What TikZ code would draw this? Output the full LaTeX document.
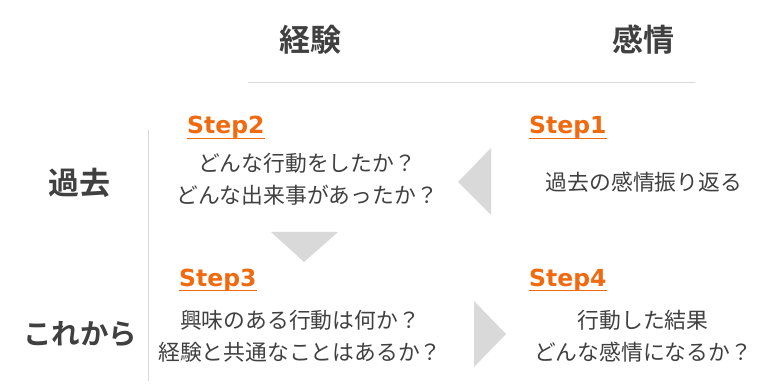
\documentclass[tikz,border=0pt]{standalone}
\usepackage{fontspec}
\newfontfamily\jp{Noto Sans CJK JP}
\newfontfamily\jpb{Noto Sans CJK JP Bold}
\newfontfamily\steps{DejaVu Sans}
\definecolor{txt}{HTML}{404040}
\definecolor{org}{HTML}{F06A10}
\definecolor{tri}{HTML}{D9D9D9}
\definecolor{rule}{HTML}{D9D9D9}
\begin{document}
\begin{tikzpicture}[x=1pt,y=-1pt,
  head/.style={font=\jpb\fontsize{31}{36}\selectfont, text=txt, inner sep=0pt},
  body/.style={font=\jp\fontsize{21.8}{31.5}\selectfont, text=txt, align=center, inner sep=0pt},
  steplabel/.style={font=\steps\bfseries\fontsize{23.5}{26}\selectfont, text=org, inner sep=0pt, anchor=base west},
  uline/.style={draw=org, line width=1.3pt},
  arrowtri/.style={fill=tri, draw=none}]
\useasboundingbox (0,0) rectangle (770,387);
% headers
\node[head] (hexp) at (310,40) {経験};
\node[head] (hemo) at (643,40) {感情};
\node[head] (hpast) at (79,183) {過去};
\node[head, font=\jpb\fontsize{28.5}{34}\selectfont] (hfut) at (80,334) {これから};
% rules
\coordinate (hl1) at (248,82); \coordinate (hl2) at (695,82);
\draw[rule, line width=0.8pt] (hl1) -- (hl2);
\coordinate (vl1) at (148,130); \coordinate (vl2) at (148,381);
\draw[rule, line width=0.8pt] (vl1) -- (vl2);
% step labels
\node[steplabel] (s2) at (187,134) {Step2};
\node[steplabel] (s1) at (529,134) {Step1};
\node[steplabel] (s3) at (179,286) {Step3};
\node[steplabel] (s4) at (529,286) {Step4};
\foreach \s in {s1,s2,s3,s4}{\draw[uline] ([yshift=-4.5pt]\s.base west) -- ([yshift=-4.5pt]\s.base east);}
% body texts
\node[body] (t2) at (307,179) {どんな行動をしたか？\\どんな出来事があったか？};
\node[body] (t1) at (644,182) {過去の感情振り返る};
\node[body] (t3) at (300,336) {興味のある行動は何か？\\経験と共通なことはあるか？};
\node[body] (t4) at (643,336) {行動した結果\\どんな感情になるか？};
% triangles
\coordinate (a1) at (491,148); \coordinate (a2) at (491,215); \coordinate (a3) at (458,182);
\fill[arrowtri] (a1) -- (a2) -- (a3) -- cycle;
\coordinate (b1) at (271,232); \coordinate (b2) at (338,232); \coordinate (b3) at (304,262);
\fill[arrowtri] (b1) -- (b2) -- (b3) -- cycle;
\coordinate (c1) at (474,301); \coordinate (c2) at (474,367); \coordinate (c3) at (506,334);
\fill[arrowtri] (c1) -- (c2) -- (c3) -- cycle;
\end{tikzpicture}
\end{document}
